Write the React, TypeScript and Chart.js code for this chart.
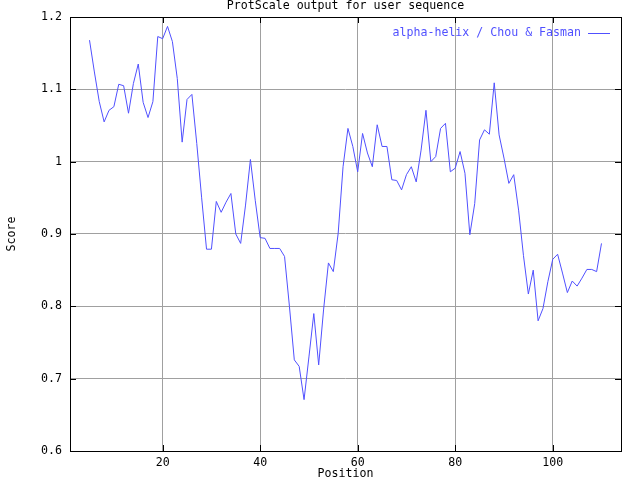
import React, { useEffect, useRef } from "react";
import { Chart, registerables } from "chart.js";

Chart.register(...registerables);

const positions = [
  5, 6, 7, 8, 9, 10, 11, 12, 13, 14, 15, 16, 17, 18, 19, 20, 21, 22, 23, 24,
  25, 26, 27, 28, 29, 30, 31, 32, 33, 34, 35, 36, 37, 38, 39, 40, 41, 42, 43, 44,
  45, 46, 47, 48, 49, 50, 51, 52, 53, 54, 55, 56, 57, 58, 59, 60, 61, 62, 63, 64,
  65, 66, 67, 68, 69, 70, 71, 72, 73, 74, 75, 76, 77, 78, 79, 80, 81, 82, 83, 84,
  85, 86, 87, 88, 89, 90, 91, 92, 93, 94, 95, 96, 97, 98, 99, 100, 101, 102, 103, 104,
  105, 106, 107, 108, 109, 110,
];

const scores = [
  1.168, 1.124, 1.083, 1.055, 1.071, 1.076, 1.107, 1.105, 1.067, 1.108,
  1.135, 1.082, 1.061, 1.083, 1.173, 1.170, 1.187, 1.166, 1.115, 1.027,
  1.086, 1.093, 1.025, 0.950, 0.879, 0.879, 0.945, 0.930, 0.944, 0.956,
  0.900, 0.887, 0.940, 1.003, 0.946, 0.895, 0.894, 0.880, 0.880, 0.880,
  0.869, 0.800, 0.726, 0.717, 0.671, 0.730, 0.790, 0.719, 0.795, 0.860,
  0.848, 0.901, 0.993, 1.046, 1.021, 0.986, 1.039, 1.012, 0.993, 1.051,
  1.021, 1.021, 0.975, 0.974, 0.961, 0.982, 0.993, 0.972, 1.016, 1.071,
  1.000, 1.007, 1.046, 1.053, 0.986, 0.991, 1.014, 0.984, 0.899, 0.942,
  1.030, 1.044, 1.038, 1.109, 1.037, 1.005, 0.970, 0.982, 0.933, 0.870,
  0.817, 0.850, 0.780, 0.797, 0.834, 0.865, 0.872, 0.846, 0.819, 0.835,
  0.828, 0.839, 0.851, 0.851, 0.848, 0.887,
];

const xTicks = [20, 40, 60, 80, 100];
const yTicks = [0.6, 0.7, 0.8, 0.9, 1.0, 1.1, 1.2];
const yTickLabels = ["0.6", "0.7", "0.8", "0.9", "1", "1.1", "1.2"];
const xMin = 1;
const xMax = 114;
const yMin = 0.6;
const yMax = 1.2;

const titleText = "ProtScale output for user sequence";
const xTitle = "Position";
const yTitle = "Score";
const seriesName = "alpha-helix / Chou & Fasman";

const LINE_COLOR = "#5050ff";
const FONT = '11.6px "DejaVu Sans Mono", monospace';

const decorPlugin = {
  id: "gnuplotDecor",
  afterDraw(chart: any) {
    const ctx = chart.ctx;
    const { left, right, top, bottom } = chart.chartArea;
    const xs = chart.scales.x;
    const ys = chart.scales.y;
    ctx.save();
    // frame
    ctx.strokeStyle = "#000";
    ctx.lineWidth = 1;
    ctx.strokeRect(Math.round(left) + 0.5, Math.round(top) + 0.5, Math.round(right - left), Math.round(bottom - top));
    // tick marks
    ctx.beginPath();
    yTicks.forEach((v) => {
      const y = Math.round(ys.getPixelForValue(v)) + 0.5;
      ctx.moveTo(left, y);
      ctx.lineTo(left + 6, y);
      ctx.moveTo(right, y);
      ctx.lineTo(right - 6, y);
    });
    xTicks.forEach((v) => {
      const x = Math.round(xs.getPixelForValue(v)) + 0.5;
      ctx.moveTo(x, bottom);
      ctx.lineTo(x, bottom - 6);
      ctx.moveTo(x, top);
      ctx.lineTo(x, top + 6);
    });
    ctx.stroke();
    // labels
    ctx.font = FONT;
    ctx.fillStyle = "#000";
    ctx.textBaseline = "middle";
    ctx.textAlign = "right";
    yTicks.forEach((v, i) => {
      ctx.fillText(yTickLabels[i], left - 8, ys.getPixelForValue(v));
    });
    ctx.textAlign = "center";
    xTicks.forEach((v) => {
      ctx.fillText(String(v), xs.getPixelForValue(v), bottom + 12);
    });
    const cx = (left + right) / 2;
    ctx.fillText(titleText, cx, 6);
    ctx.fillText(xTitle, cx, bottom + 23);
    ctx.save();
    ctx.translate(12, (top + bottom) / 2);
    ctx.rotate(-Math.PI / 2);
    ctx.fillText(yTitle, 0, 0);
    ctx.restore();
    // legend
    ctx.fillStyle = LINE_COLOR;
    ctx.textAlign = "right";
    ctx.fillText(seriesName, right - 40, top + 16);
    ctx.strokeStyle = LINE_COLOR;
    ctx.beginPath();
    ctx.moveTo(right - 33, top + 16.5);
    ctx.lineTo(right - 11, top + 16.5);
    ctx.stroke();
    ctx.restore();
  },
};

export default function App() {
  const ref = useRef<HTMLCanvasElement>(null);
  useEffect(() => {
    document.body.style.margin = "0";
    const canvas = ref.current!;
    const chart = new Chart(canvas, {
      type: "line",
      data: {
        datasets: [
          {
            label: seriesName,
            data: positions.map((p, i) => ({ x: p, y: scores[i] })),
            borderColor: LINE_COLOR,
            borderWidth: 1,
            pointRadius: 0,
            tension: 0,
            fill: false,
          },
        ],
      },
      options: {
        animation: false,
        responsive: false,
        devicePixelRatio: 1,
        layout: { padding: { left: 70, right: 19, top: 17, bottom: 29 } },
        plugins: {
          legend: { display: false },
          title: { display: false },
          tooltip: { enabled: false },
        },
        scales: {
          x: {
            type: "linear",
            min: xMin,
            max: xMax,
            afterBuildTicks: (s: any) => {
              s.ticks = xTicks.map((v) => ({ value: v }));
            },
            ticks: { display: false },
            grid: { color: "#a0a0a0", drawTicks: false, lineWidth: 1 },
            border: { display: false },
          },
          y: {
            type: "linear",
            min: yMin,
            max: yMax,
            afterBuildTicks: (s: any) => {
              s.ticks = yTicks.map((v) => ({ value: v }));
            },
            ticks: { display: false },
            grid: { color: "#a0a0a0", drawTicks: false, lineWidth: 1 },
            border: { display: false },
          },
        },
      },
      plugins: [decorPlugin],
    });
    return () => chart.destroy();
  }, []);
  return (
    <div style={{ position: "absolute", left: 0, top: 0, width: 640, height: 480, background: "#fff" }}>
      <canvas ref={ref} width={640} height={480} style={{ display: "block" }} />
    </div>
  );
}
